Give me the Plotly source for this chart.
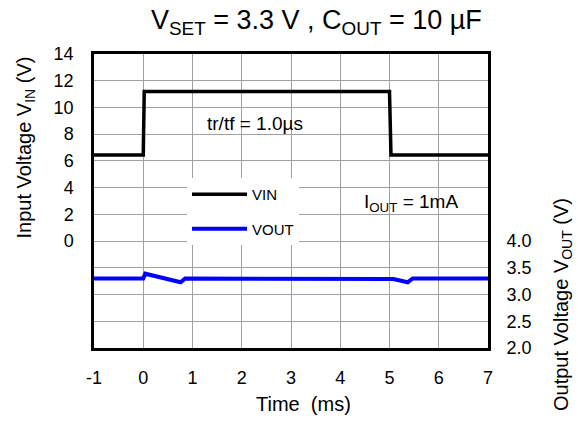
import plotly.graph_objects as go

# ---- data ----
vin_time = [-1.0, 0.0, 0.02, 5.0, 5.03, 7.0]
vin_volt = [6.44, 6.44, 11.2, 11.2, 6.44, 6.44]

vout_time = [-1.0, 0.0, 0.04, 0.76, 0.85, 5.0, 5.08, 5.37, 5.47, 7.0]
vout_volt = [3.3, 3.3, 3.39, 3.23, 3.3, 3.3, 3.29, 3.23, 3.3, 3.3]

x_ticks = [-1, 0, 1, 2, 3, 4, 5, 6, 7]
x_tick_labels = ["-1", "0", "1", "2", "3", "4", "5", "6", "7"]
vin_ticks = [0, 2, 4, 6, 8, 10, 12, 14]
vout_ticks = [2.0, 2.5, 3.0, 3.5, 4.0]

FONT = "Arial, Liberation Sans, sans-serif"
GRID = "#a0a0a0"

fig = go.Figure()
fig.add_trace(go.Scatter(x=vin_time, y=vin_volt, mode="lines", name="VIN",
                         line=dict(color="black", width=3.5), legendgroup="a"))
fig.add_trace(go.Scatter(x=vout_time, y=vout_volt, mode="lines", name="VOUT",
                         line=dict(color="#0000ff", width=4), yaxis="y2", legendgroup="b"))

fig.update_layout(
    width=578, height=423,
    margin=dict(l=94, r=90, t=54, b=75),
    paper_bgcolor="white", plot_bgcolor="white",
    font=dict(family=FONT, color="black", size=18),
    showlegend=True,
    legend=dict(x=0.236, y=0.578, xanchor="left", yanchor="top",
                bgcolor="white", borderwidth=0, font=dict(size=15),
                traceorder="grouped", tracegroupgap=12, itemwidth=55),
    xaxis=dict(range=[-1, 7], tickvals=x_ticks, ticktext=x_tick_labels,
               showgrid=True, gridcolor=GRID, gridwidth=1,
               zeroline=False, showline=True, linecolor="black", linewidth=2.5, mirror=True,
               ticks="outside", ticklen=12, tickcolor="rgba(0,0,0,0)",
               tickfont=dict(size=18)),
    yaxis=dict(range=[-8, 14], tickvals=vin_ticks, showgrid=True, gridcolor=GRID, gridwidth=1,
               zeroline=False, showline=True, linecolor="black", linewidth=2.5, mirror=True,
               ticks="outside", ticklen=14, tickcolor="rgba(0,0,0,0)",
               tickfont=dict(size=18)),
    yaxis2=dict(range=[2.0, 7.5], tickvals=vout_ticks, tickformat=".1f", overlaying="y",
                side="right", showgrid=True, gridcolor=GRID, gridwidth=1, zeroline=False,
                showline=False, ticks="outside", ticklen=14, tickcolor="rgba(0,0,0,0)",
                tickfont=dict(size=18)),
    annotations=[
        dict(text="V<sub>SET</sub> = 3.3 V , C<sub>OUT</sub> = 10 µF", xref="paper", yref="paper",
             x=(316 - 94) / 394, y=1 + (54 - 22.5) / 294, xanchor="center", yanchor="middle",
             showarrow=False, font=dict(size=27)),
        dict(text="Time\u00a0 (ms)", xref="paper", yref="paper",
             x=(303 - 94) / 394, y=-(404 - 348) / 294, xanchor="center", yanchor="middle",
             showarrow=False, font=dict(size=20)),
        dict(text="Input Voltage V<sub>IN</sub> (V)", xref="paper", yref="paper",
             x=-(94 - 25) / 394, y=(348 - 147.5) / 294, xanchor="center", yanchor="middle",
             textangle=-90, showarrow=False, font=dict(size=20)),
        dict(text="Output Voltage V<sub>OUT</sub> (V)", xref="paper", yref="paper",
             x=1 + (562 - 488) / 394, y=(348 - 305) / 294, xanchor="center", yanchor="middle",
             textangle=-90, showarrow=False, font=dict(size=20)),
        dict(text="tr/tf = 1.0µs", xref="paper", yref="paper",
             x=(255 - 94) / 394, y=(348 - 123.5) / 294, xanchor="center", yanchor="middle",
             showarrow=False, font=dict(size=19)),
        dict(text="I<sub>OUT</sub> = 1mA", xref="paper", yref="paper",
             x=(411 - 94) / 394, y=(348 - 203) / 294, xanchor="center", yanchor="middle",
             showarrow=False, font=dict(size=19)),
    ],
)

fig.write_html("out.html", config={"displayModeBar": False},
               post_script="document.body.style.margin='0';")
